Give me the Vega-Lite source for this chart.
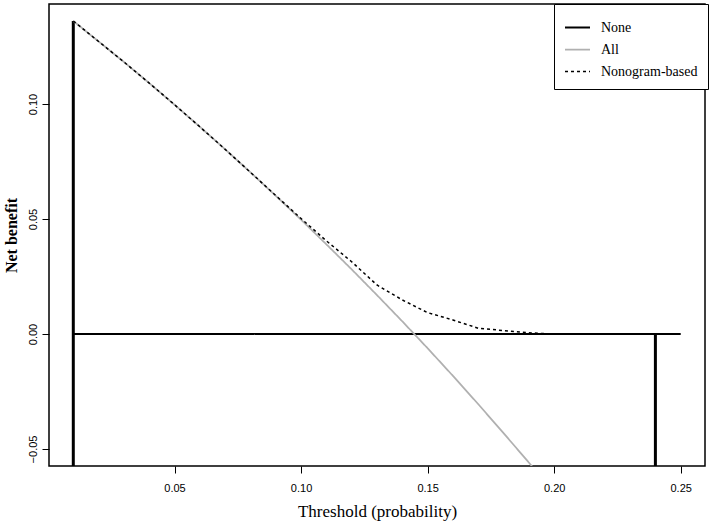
{
  "$schema": "https://vega.github.io/schema/vega-lite/v6.json",
  "width": 656,
  "height": 462,
  "autosize": {"type": "none"},
  "padding": {"left": 49, "top": 4, "right": 4, "bottom": 58},
  "background": "white",
  "config": {
    "view": {"stroke": "black", "strokeWidth": 1.5},
    "axis": {"grid": false, "domain": false, "tickColor": "black", "tickSize": 7, "tickWidth": 1, "labelColor": "black", "titleColor": "black", "labelFont": "Liberation Sans", "labelFontSize": 11, "titleFont": "Liberation Serif", "titleFontSize": 16}
  },
  "datasets": {
    "curves": [
      {"t": 0.01, "nb": 0.0, "series": "None"},
      {"t": 0.25, "nb": 0.0, "series": "None"},
      {"t": 0.01, "nb": 0.1361, "series": "All"},
      {"t": 0.02, "nb": 0.1272, "series": "All"},
      {"t": 0.03, "nb": 0.1183, "series": "All"},
      {"t": 0.04, "nb": 0.1091, "series": "All"},
      {"t": 0.05, "nb": 0.0997, "series": "All"},
      {"t": 0.06, "nb": 0.0901, "series": "All"},
      {"t": 0.07, "nb": 0.0803, "series": "All"},
      {"t": 0.08, "nb": 0.0703, "series": "All"},
      {"t": 0.09, "nb": 0.0601, "series": "All"},
      {"t": 0.10, "nb": 0.0497, "series": "All"},
      {"t": 0.11, "nb": 0.0390, "series": "All"},
      {"t": 0.12, "nb": 0.0281, "series": "All"},
      {"t": 0.13, "nb": 0.0169, "series": "All"},
      {"t": 0.14, "nb": 0.0055, "series": "All"},
      {"t": 0.15, "nb": -0.0062, "series": "All"},
      {"t": 0.16, "nb": -0.0182, "series": "All"},
      {"t": 0.17, "nb": -0.0305, "series": "All"},
      {"t": 0.18, "nb": -0.0431, "series": "All"},
      {"t": 0.19, "nb": -0.0559, "series": "All"},
      {"t": 0.20, "nb": -0.0691, "series": "All"},
      {"t": 0.01, "nb": 0.1361, "series": "Nonogram-based"},
      {"t": 0.02, "nb": 0.1272, "series": "Nonogram-based"},
      {"t": 0.03, "nb": 0.1183, "series": "Nonogram-based"},
      {"t": 0.04, "nb": 0.1091, "series": "Nonogram-based"},
      {"t": 0.05, "nb": 0.0997, "series": "Nonogram-based"},
      {"t": 0.06, "nb": 0.0901, "series": "Nonogram-based"},
      {"t": 0.07, "nb": 0.0803, "series": "Nonogram-based"},
      {"t": 0.08, "nb": 0.0703, "series": "Nonogram-based"},
      {"t": 0.09, "nb": 0.0602, "series": "Nonogram-based"},
      {"t": 0.10, "nb": 0.0502, "series": "Nonogram-based"},
      {"t": 0.11, "nb": 0.0405, "series": "Nonogram-based"},
      {"t": 0.12, "nb": 0.0314, "series": "Nonogram-based"},
      {"t": 0.13, "nb": 0.0213, "series": "Nonogram-based"},
      {"t": 0.14, "nb": 0.0148, "series": "Nonogram-based"},
      {"t": 0.15, "nb": 0.0093, "series": "Nonogram-based"},
      {"t": 0.16, "nb": 0.0061, "series": "Nonogram-based"},
      {"t": 0.17, "nb": 0.0025, "series": "Nonogram-based"},
      {"t": 0.18, "nb": 0.0015, "series": "Nonogram-based"},
      {"t": 0.19, "nb": 0.0005, "series": "Nonogram-based"},
      {"t": 0.20, "nb": 0.0, "series": "Nonogram-based"},
      {"t": 0.21, "nb": 0.0, "series": "Nonogram-based"},
      {"t": 0.22, "nb": 0.0, "series": "Nonogram-based"}
    ],
    "verticals": [
      {"t": 0.01, "y1": -0.0574, "y2": 0.1361},
      {"t": 0.24, "y1": -0.0574, "y2": 0.0}
    ]
  },
  "layer": [
    {
      "data": {"name": "verticals"},
      "mark": {"type": "rule", "color": "black", "strokeWidth": 3, "clip": true},
      "encoding": {
        "x": {"field": "t", "type": "quantitative"},
        "y": {"field": "y1", "type": "quantitative"},
        "y2": {"field": "y2"}
      }
    },
    {
      "data": {"name": "curves"},
      "mark": {"type": "line", "clip": true},
      "encoding": {
        "x": {
          "field": "t", "type": "quantitative",
          "scale": {"domain": [0.0004, 0.2596], "nice": false, "zero": false},
          "axis": {"values": [0.05, 0.1, 0.15, 0.2, 0.25], "format": ".2f", "title": "Threshold (probability)", "titleFontWeight": "normal", "titleFontSize": 17, "labelPadding": 9, "titlePadding": 10}
        },
        "y": {
          "field": "nb", "type": "quantitative",
          "scale": {"domain": [-0.0574, 0.1435], "nice": false, "zero": false},
          "axis": {"values": [-0.05, 0, 0.05, 0.1], "format": ".2f", "title": "Net benefit", "titleFontWeight": "bold", "labelAngle": 270, "labelAlign": "center", "labelBaseline": "bottom", "labelPadding": 4, "titlePadding": 8}
        },
        "color": {
          "field": "series", "type": "nominal",
          "scale": {"domain": ["None", "All", "Nonogram-based"], "range": ["#000000", "#b0b0b0", "#000000"]},
          "legend": {"title": null, "orient": "none", "legendX": 505, "legendY": 0, "symbolType": "stroke", "symbolSize": 625, "labelFont": "Liberation Serif", "labelFontSize": 14, "labelColor": "black", "labelOffset": 10, "rowPadding": 1, "padding": 10, "fillColor": "white", "strokeColor": "black", "cornerRadius": 0, "offset": 0}
        },
        "strokeDash": {
          "field": "series", "type": "nominal",
          "scale": {"domain": ["None", "All", "Nonogram-based"], "range": [[1, 0], [1, 0], [3, 3]]},
          "legend": {"title": null, "orient": "none", "legendX": 505, "legendY": 0, "symbolType": "stroke", "symbolSize": 625, "labelFont": "Liberation Serif", "labelFontSize": 14, "labelColor": "black", "labelOffset": 10, "rowPadding": 1, "padding": 10, "fillColor": "white", "strokeColor": "black", "cornerRadius": 0, "offset": 0}
        },
        "strokeWidth": {
          "field": "series", "type": "nominal",
          "scale": {"domain": ["None", "All", "Nonogram-based"], "range": [2, 1.5, 1]},
          "legend": {"title": null, "orient": "none", "legendX": 505, "legendY": 0, "symbolType": "stroke", "symbolSize": 625, "labelFont": "Liberation Serif", "labelFontSize": 14, "labelColor": "black", "labelOffset": 10, "rowPadding": 1, "padding": 10, "fillColor": "white", "strokeColor": "black", "cornerRadius": 0, "offset": 0}
        }
      }
    }
  ]
}
